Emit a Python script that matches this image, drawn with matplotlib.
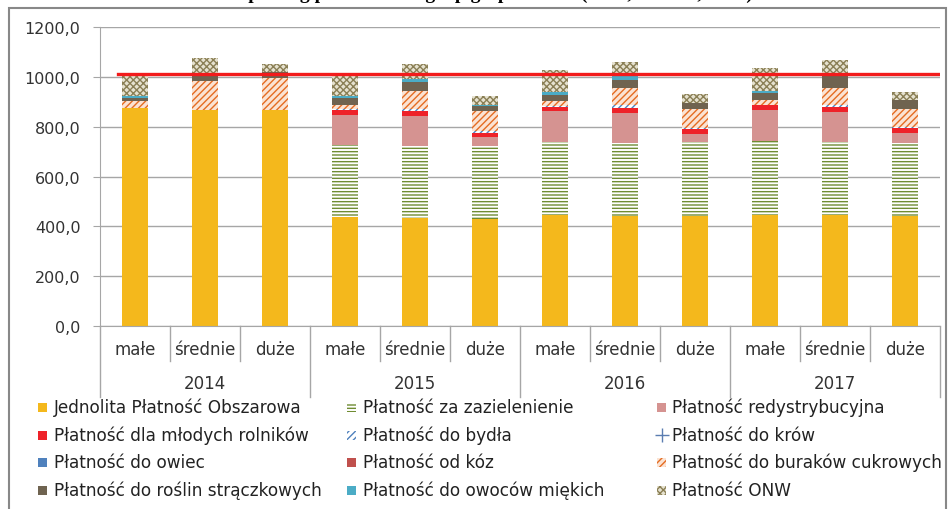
import numpy as np
import matplotlib.pyplot as plt
from matplotlib.patches import Rectangle
from matplotlib.lines import Line2D

years = ['2014', '2015', '2016', '2017']
sizes = ['małe', 'średnie', 'duże']
yticks = [0, 200, 400, 600, 800, 1000, 1200]
ytick_labels = ['0,0', '200,0', '400,0', '600,0', '800,0', '1000,0', '1200,0']
limit = 1013

names = ['Jednolita Płatność Obszarowa', 'Płatność za zazielenienie', 'Płatność redystrybucyjna',
         'Płatność dla młodych rolników', 'Płatność do bydła', 'Płatność do krów',
         'Płatność do owiec', 'Płatność od kóz', 'Płatność do buraków cukrowych',
         'Płatność do roślin strączkowych', 'Płatność do owoców miękich', 'Płatność ONW']

# order of categories: 2014 małe/średnie/duże, 2015 ..., 2016 ..., 2017 ...
jpo = [873, 868, 868, 436, 433, 431, 445, 441, 441, 447, 445, 441]
zazielenienie = [0, 0, 0, 290, 291, 293, 292, 293, 296, 297, 295, 293]
redystrybucyjna = [0, 0, 0, 121, 117, 34, 127, 121, 33, 124, 120, 40]
mlodzi = [0, 0, 0, 21, 23, 18, 16, 19, 20, 18, 17, 22]
bydlo = [0, 0, 0, 1, 7, 7, 1, 13, 4, 1, 11, 4]
krowy = [0, 0, 0, 0, 0, 0, 0, 0, 0, 0, 0, 0]
owce = [0, 0, 0, 0, 0, 0, 0, 0, 0, 0, 0, 0]
kozy = [0, 0, 0, 0, 0, 0, 0, 0, 0, 0, 0, 0]
buraki = [30, 116, 127, 19, 73, 80, 22, 67, 77, 21, 66, 71]
straczkowe = [12, 23, 23, 29, 36, 19, 26, 34, 23, 28, 53, 36]
owoce = [8, 0, 0, 7, 11, 6, 10, 14, 0, 8, 0, 0]
onw = [80, 68, 33, 84, 59, 34, 89, 56, 37, 91, 60, 33]

series = [jpo, zazielenienie, redystrybucyjna, mlodzi, bydlo, krowy, owce, kozy,
          buraki, straczkowe, owoce, onw]

styles = [
    dict(facecolor='#F4B81C', edgecolor='#F4B81C', linewidth=0),
    dict(facecolor='white', edgecolor='#6F8C32', hatch='-----', linewidth=0),
    dict(facecolor='#D59391', edgecolor='#D59391', linewidth=0),
    dict(facecolor='#EE2229', edgecolor='#EE2229', linewidth=0),
    dict(facecolor='white', edgecolor='#4F81BD', hatch='/////', linewidth=0),
    dict(facecolor='white', edgecolor='#4F81BD', hatch='+++', linewidth=0),
    dict(facecolor='#4F81BD', edgecolor='#4F81BD', linewidth=0),
    dict(facecolor='#C0504D', edgecolor='#C0504D', linewidth=0),
    dict(facecolor='#FBE3D3', edgecolor='#E46C22', hatch='/////', linewidth=0),
    dict(facecolor='#6F6350', edgecolor='#6F6350', linewidth=0),
    dict(facecolor='#4BACC6', edgecolor='#4BACC6', linewidth=0),
    dict(facecolor='#E6E2D0', edgecolor='#8A7F55', hatch='xxxxx', linewidth=0),
]

plt.rcParams['font.family'] = 'DejaVu Sans'
plt.rcParams['hatch.linewidth'] = 1.0
W, H = 949, 510
fig = plt.figure(figsize=(W / 100, H / 100), dpi=100)
ax = fig.add_axes([100 / W, 1 - 327 / H, 840 / W, 299 / H])

x = np.arange(12)
bottom = np.zeros(12)
for vals, st in zip(series, styles):
    ax.bar(x, vals, 0.38, bottom=bottom, **st)
    bottom += np.array(vals)

ax.axhline(limit, xmin=18 / 840, xmax=1, color='#F21B1B', lw=2.4, zorder=5)

ax.set_xlim(-0.5, 11.5)
ax.set_ylim(0, 1200)
ax.set_yticks(yticks)
ax.set_yticklabels(ytick_labels, fontsize=11.5, color='#333333')
ax.set_xticks([])
ax.tick_params(axis='y', length=5, color='#A6A6A6', pad=9)
ax.yaxis.grid(True, color='#A6A6A6', lw=1)
ax.set_axisbelow(True)
for s in ['top', 'right']:
    ax.spines[s].set_visible(False)
ax.spines['left'].set_color('#A6A6A6')
ax.spines['bottom'].set_color('#A6A6A6')

# multi-level category axis
tr = ax.get_xaxis_transform()
for k in range(13):
    y1 = -0.236 if k % 3 == 0 else -0.117
    ax.plot([k - 0.5, k - 0.5], [0, y1], transform=tr, clip_on=False, color='#A6A6A6', lw=1)
for i in range(12):
    ax.text(i, -0.077, sizes[i % 3], transform=tr, ha='center', va='center',
            fontsize=12, color='#333333')
for g in range(4):
    ax.text(3 * g + 1, -0.19, years[g], transform=tr, ha='center', va='center',
            fontsize=12, color='#333333')

# legend
rows = [408, 436, 463, 491]
mark_x = [38, 347, 657]
text_x = [54, 363, 672]
for j, name in enumerate(names):
    r, c = j // 3, j % 3
    yc = rows[r]
    if j == 5:
        fig.add_artist(Line2D([(mark_x[c] + 4.5) / W], [1 - yc / H], marker='+', ms=10,
                              mew=1, color='#5B7DB1', transform=fig.transFigure))
    else:
        fig.add_artist(Rectangle((mark_x[c] / W, 1 - (yc + 4.5) / H), 9 / W, 9 / H,
                                 transform=fig.transFigure, **styles[j]))
    fig.text(text_x[c] / W, 1 - yc / H, name, ha='left', va='center', fontsize=12.2, color='#222222')

# chart frame and title (cut off at the top like in the source)
fig.add_artist(Rectangle((9 / W, -0.01), 937 / W, 1 - 9 / H + 0.01, transform=fig.transFigure,
                         fill=False, edgecolor='#888888', lw=1.5))
fig.text(0.47, 1 + 1 / H, 'Struktura dopłat wg płatności dla grup gospodarstw (małe, średnie, duże)',
         ha='center', va='baseline', fontsize=14, fontweight='bold', family='Liberation Serif')

fig.savefig('out.png', dpi=100)
